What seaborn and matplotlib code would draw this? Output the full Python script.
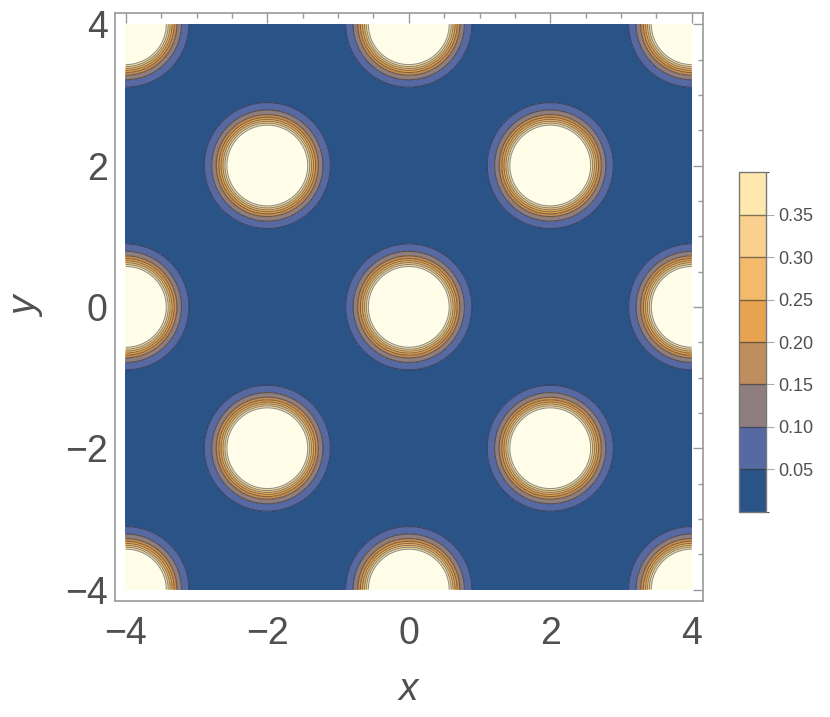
import numpy as np
import matplotlib
matplotlib.use("Agg")
import matplotlib.pyplot as plt
import seaborn as sns
from matplotlib.colors import ListedColormap, BoundaryNorm
from matplotlib.cm import ScalarMappable

# ----------------------------
# DATA
# ----------------------------

# peak centres of the lattice (x + y divisible by 4)
center_x = [0, 2, -2, 2, -2, 4, -4, 0, 0, 4, -4, 4, -4]
center_y = [0, 2, 2, -2, -2, 0, 0, 4, -4, 4, 4, -4, -4]

# radial profile: steep core + narrow shoulder
core_amp, core_width, core_power = 0.5, 0.63, 6.3
shoulder_amp, shoulder_width, shoulder_power = 0.11, 0.91, 11.4

levels = [0.0, 0.05, 0.10, 0.15, 0.20, 0.25, 0.30, 0.35, 0.40]
cbar_ticks = [0.05, 0.10, 0.15, 0.20, 0.25, 0.30, 0.35]
cbar_labels = ["0.05", "0.10", "0.15", "0.20", "0.25", "0.30", "0.35"]
axis_ticks = [-4, -2, 0, 2, 4]

band_colors = ["#2A5488", "#5769A3", "#8E7E7F", "#C08E5E",
               "#E8A350", "#F2BA6A", "#F9D08E", "#FFE8AE"]
over_color = "#FFFDE8"

# ----------------------------
# FIELD
# ----------------------------

gx = np.linspace(-4, 4, 801)
gy = np.linspace(-4, 4, 801)
X, Y = np.meshgrid(gx, gy)

Z = np.zeros_like(X)
for cx, cy in zip(center_x, center_y):
    r = np.hypot(X - cx, Y - cy)
    Z += core_amp * np.exp(-(r / core_width) ** core_power)
    Z += shoulder_amp * np.exp(-(r / shoulder_width) ** shoulder_power)

# ----------------------------
# PLOT
# ----------------------------

sns.set_style("white")
plt.rcParams["font.family"] = ["Liberation Sans", "DejaVu Sans"]

grey = "#505050"
frame = "#999999"

cmap = ListedColormap(sns.color_palette(band_colors))
cmap.set_over(over_color)
norm = BoundaryNorm(levels, cmap.N)

fig = plt.figure(figsize=(8.3, 7.17), dpi=100)
ax = fig.add_axes([0.138, 0.162, 0.709, 0.820])

ax.contourf(X, Y, Z, levels=levels, cmap=cmap, norm=norm, extend="max")
ax.contour(X, Y, Z, levels=levels[1:], colors="#222222", linewidths=0.8, alpha=0.5)

ax.set_xlim(-4.16, 4.16)
ax.set_ylim(-4.16, 4.16)

minus = lambda t: f"{t}".replace("-", "\u2212")
ax.set_xticks(axis_ticks)
ax.set_yticks(axis_ticks)
ax.set_xticklabels([minus(t) for t in axis_ticks])
ax.set_yticklabels([minus(t) for t in axis_ticks])
ax.set_xticks(np.arange(-4, 4.01, 0.5), minor=True)
ax.set_yticks(np.arange(-4, 4.01, 0.5), minor=True)

ax.tick_params(which="both", direction="in", top=True, right=True,
               color=frame, width=1)
ax.tick_params(which="major", length=7, labelsize=27, labelcolor=grey)
ax.tick_params(axis="x", which="major", pad=11)
ax.tick_params(axis="y", which="major", pad=5)
ax.tick_params(which="minor", length=3.5)

for s in ax.spines.values():
    s.set_color(frame)
    s.set_linewidth(1.2)

ax.set_xlabel("x", fontsize=28, style="italic", color=grey, labelpad=14)
ax.set_ylabel("y", fontsize=28, style="italic", color=grey, labelpad=14)

# ----------------------------
# COLORBAR
# ----------------------------

cax = fig.add_axes([0.890, 0.286, 0.0325, 0.474])
sm = ScalarMappable(norm=BoundaryNorm(levels, cmap.N),
                    cmap=ListedColormap(sns.color_palette(band_colors)))
cb = fig.colorbar(sm, cax=cax, boundaries=levels, ticks=cbar_ticks)
cb.ax.set_yticklabels(cbar_labels)
cb.ax.tick_params(length=6, width=0.8, color="#aaaaaa", labelsize=13,
                  labelcolor=grey, pad=3)
cb.outline.set_edgecolor("#777777")
cb.outline.set_linewidth(1)
for lv in levels[1:-1]:
    cb.ax.axhline(lv, color="#333333", lw=1, alpha=0.6)

plt.savefig("out.png", dpi=100)
